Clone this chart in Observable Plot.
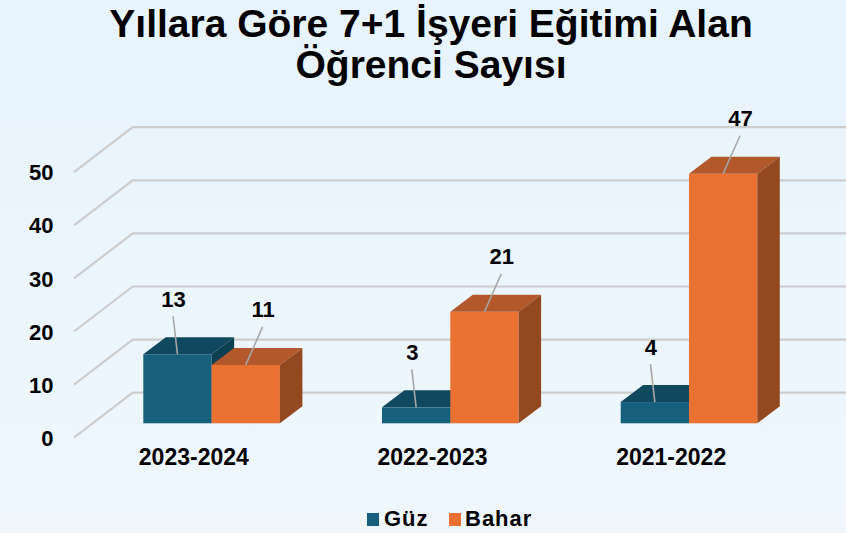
<!DOCTYPE html>
<html><head><meta charset="utf-8">
<script src="https://cdn.jsdelivr.net/npm/d3@7"></script>
<script src="https://cdn.jsdelivr.net/npm/@observablehq/plot@0.6"></script>
<style>
html,body{margin:0;padding:0;}
body{width:846px;height:533px;overflow:hidden;background:linear-gradient(#E7F3FD,#EFF7FD);font-family:"Liberation Sans",Arial,sans-serif;color:#000;}
#title{width:846px;height:96px;box-sizing:border-box;padding-top:3px;padding-left:16px;text-align:center;font-weight:bold;font-size:39px;line-height:41px;}
#chart{height:404px;}
#chart svg{display:block;overflow:visible;}
#legend{position:relative;width:846px;height:33px;font-weight:bold;font-size:22px;letter-spacing:1px;line-height:22px;}
#legend .sw{position:absolute;top:13px;width:12px;height:13px;}
#legend .lb{position:absolute;top:8px;white-space:nowrap;}
</style></head>
<body>
<div id="title">Yıllara Göre 7+1 İşyeri Eğitimi Alan<br>Öğrenci Sayısı</div>
<div id="chart"></div>
<div id="legend">
  <div class="sw" style="left:367px;background:#17607D"></div><div class="lb" style="left:384px">Güz</div>
  <div class="sw" style="left:449px;background:#E97132"></div><div class="lb" style="left:465px">Bahar</div>
</div>
<script>
// ---- data ----
const years = ["2023-2024", "2022-2023", "2021-2022"];
const seriesNames = ["Güz", "Bahar"];
const guzValues = [13, 3, 4];
const baharValues = [11, 21, 47];
const yTicks = [0, 10, 20, 30, 40, 50];

const data = years.flatMap((yr, i) => [
  {year: yr, series: seriesNames[0], value: guzValues[i]},
  {year: yr, series: seriesNames[1], value: baharValues[i]}
]);

// ---- style / layout ----
const W = 846, H = 404;
const DX = 22.5, DY = 17;                 // bar depth
const FRONT_DX = -18.8, FRONT_DY = 14.4;  // front wall plane offset
const BACK_DX = 39.9, BACK_DY = -30.6;    // back wall plane offset
const GRID_FRONT_X = 74;
const HALF = 68.3;                        // half of the band = one bar width
const LABEL_DY = -55;
const ns = "http://www.w3.org/2000/svg";
const palette = {
  "Güz": {front: "#17607D", top: "#10495F", side: "#0D3F53"},
  "Bahar": {front: "#E97132", top: "#B2582A", side: "#934820"}
};

function poly(points, fill) {
  const p = document.createElementNS(ns, "polygon");
  p.setAttribute("points", points.map(d => d.join(",")).join(" "));
  p.setAttribute("fill", fill);
  return p;
}

function bar3d(name, insetLeft, insetRight) {
  const c = palette[name];
  return Plot.barY(data.filter(d => d.series === name), {
    x: "year", y: "value", fill: c.front, insetLeft, insetRight,
    render(index, scales, values, dims, context, next) {
      const g = next(index, scales, values, dims, context);
      for (const r of Array.from(g.querySelectorAll("rect"))) {
        const x = +r.getAttribute("x"), y = +r.getAttribute("y");
        const w = +r.getAttribute("width"), h = +r.getAttribute("height");
        g.appendChild(poly([[x, y], [x + DX, y - DY], [x + w + DX, y - DY], [x + w, y]], c.top));
        g.appendChild(poly([[x + w, y], [x + w + DX, y - DY], [x + w + DX, y + h - DY], [x + w, y + h]], c.side));
      }
      return g;
    }
  });
}

function labels(name, labelDx, barDx) {
  const sub = data.filter(d => d.series === name);
  return [
    Plot.link(sub, {
      x1: "year", x2: "year", y1: "value", y2: "value", stroke: "#A6A6A6",
      render(index, scales, values) {
        const g = d3.create("svg:g");
        for (const i of index) {
          // link channels give the band start; shift to band centre
          g.append("line")
            .attr("x1", values.x1[i] + HALF + labelDx).attr("y1", values.y1[i] + LABEL_DY + 17)
            .attr("x2", values.x2[i] + HALF + barDx).attr("y2", values.y2[i])
            .attr("stroke", "#A6A6A6").attr("stroke-width", 1.6);
        }
        return g.node();
      }
    }),
    Plot.text(sub, {x: "year", y: "value", text: d => String(d.value), dx: labelDx, dy: LABEL_DY,
      fontSize: 22, fontWeight: "bold", fill: "#000"})
  ];
}

const chart = Plot.plot({
  width: W, height: H,
  marginLeft: 143.3, marginRight: 88.7, marginTop: 61.8, marginBottom: 76.7,
  style: {background: "transparent", fontFamily: "'Liberation Sans', Arial, sans-serif", overflow: "visible"},
  x: {domain: years, paddingInner: 0.4277, paddingOuter: 0, round: false, axis: null},
  y: {domain: [0, 50], axis: null},
  marks: [
    Plot.ruleY(yTicks, {
      y: d => d,
      render(index, scales, values, dims) {
        const g = d3.create("svg:g");
        for (const i of index) {
          const yb = scales.y(yTicks[i]);
          g.append("polyline")
            .attr("points", `${GRID_FRONT_X},${yb + FRONT_DY} ${GRID_FRONT_X + (BACK_DX - FRONT_DX)},${yb + BACK_DY} ${dims.width},${yb + BACK_DY}`)
            .attr("fill", "none").attr("stroke", "#CDCDCD").attr("stroke-width", 2.2);
        }
        return g.node();
      }
    }),
    Plot.text(yTicks, {y: d => d, text: d => String(d), frameAnchor: "left", textAnchor: "end",
      dx: -90.3, dy: 15, fontSize: 22, fontWeight: "bold", fill: "#000"}),
    Plot.text(years, {x: d => d, text: d => d, frameAnchor: "bottom", dx: FRONT_DX + 0.5, dy: 41,
      fontSize: 23, fontWeight: "bold", fill: "#000"}),
    bar3d("Güz", 0, HALF),
    bar3d("Bahar", HALF, 0),
    ...labels("Güz", -38.5, -34.15),
    ...labels("Bahar", 51, 34.15)
  ]
});
document.getElementById("chart").appendChild(chart);
</script>
</body></html>
